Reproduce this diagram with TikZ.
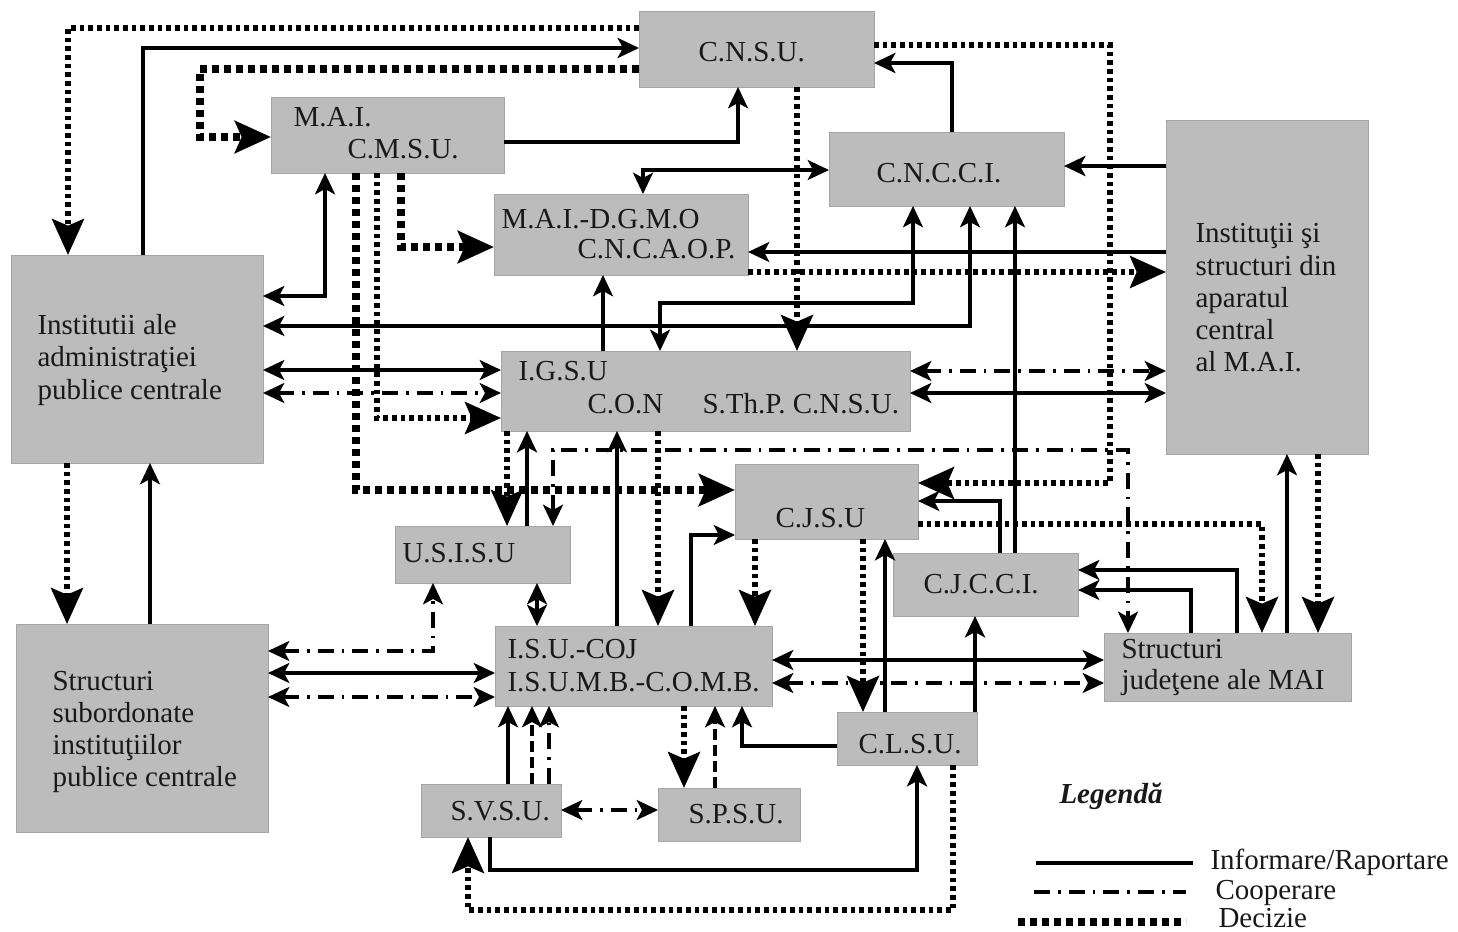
\documentclass[tikz,border=0pt]{standalone}
\usepackage{fontspec}
\setmainfont{Liberation Serif}
\usetikzlibrary{arrows.meta,fit}

\tikzset{every picture/.style={line width=0.75pt}}
\tikzset{
  box/.style={draw={rgb,255:red,165;green,165;blue,165}, fill={rgb,255:red,188;green,188;blue,188}, line width=0.75pt, inner sep=0pt, outer sep=0pt},
  lbl/.style={anchor=base west, inner sep=0pt, text={rgb,255:red,25;green,25;blue,25}, font=\fontsize{21.75}{24}\selectfont},
  info/.style={line width=2.4pt},
  infothick/.style={line width=3pt},
  coop/.style={line width=2.4pt, dash pattern=on 12pt off 6pt on 2pt off 6pt},
  coopdash/.style={line width=2.4pt, dash pattern=on 8pt off 4pt},
  deciz/.style={line width=4pt, dash pattern=on 3.5pt off 3pt},
  decizthick/.style={line width=5.5pt, dash pattern=on 5pt off 4pt},
  smtip/.tip={Stealth[length=16pt,width=15pt,inset=4pt]},
  bgtip/.tip={Stealth[length=27pt,width=24pt,inset=5pt]},
}

\begin{document}
\begin{tikzpicture}[x=0.75pt,y=0.75pt,yscale=-1,xscale=1]
\useasboundingbox (0,0) rectangle (1458,931);

%Shape: Rectangles
\node[box, fit={(639,12) (874,87)}] (cnsu) {};
\node[box, fit={(271,97) (504,173)}] (cmsu) {};
\node[box, fit={(829,132) (1064,206)}] (cncci) {};
\node[box, fit={(494,194) (748,275)}] (dgmo) {};
\node[box, fit={(1166,120) (1368,454)}] (instmai) {};
\node[box, fit={(11,255) (263,463)}] (inst) {};
\node[box, fit={(501,351) (910,431)}] (igsu) {};
\node[box, fit={(735,464) (918,539)}] (cjsu) {};
\node[box, fit={(395,526) (570,583)}] (usisu) {};
\node[box, fit={(893,553) (1078,616)}] (cjcci) {};
\node[box, fit={(495,626) (772,706)}] (isu) {};
\node[box, fit={(1104,633) (1351,701)}] (sj) {};
\node[box, fit={(16,624) (268,832)}] (ss) {};
\node[box, fit={(837,712) (977,765)}] (clsu) {};
\node[box, fit={(421,784) (561,837)}] (svsu) {};
\node[box, fit={(658,788) (800,841)}] (spsu) {};

%Lines: top
\draw[deciz, -bgtip] (cnsu.west |- 0,28) -| (inst.north -| 68,0);
\draw[infothick, -smtip] (inst.north -| 143,0) |- (cnsu.west |- 0,48);
\draw[decizthick, -bgtip] (cnsu.west |- 0,69) -| (200,137) -- (cmsu.west |- 0,137);
\draw[info, -smtip] (cmsu.east |- 0,142) -| (cnsu.south -| 738,0);
\draw[deciz, -bgtip] (cnsu.east |- 0,45) -| (1110,483) -- (cjsu.east |- 0,483);
\draw[infothick, -smtip] (cncci.north -| 952,0) |- (cnsu.east |- 0,63);
\draw[infothick, -smtip] (instmai.west |- 0,166) -- (cncci.east |- 0,166);
\draw[info, smtip-smtip] (dgmo.north -| 643,0) |- (cncci.west |- 0,170);
\draw[deciz, -bgtip] (cnsu.south -| 797,0) -- (igsu.north -| 797,0);

%Lines: from M.A.I. C.M.S.U.
\draw[decizthick, -bgtip] (cmsu.south -| 401,0) |- (dgmo.west |- 0,247);
\draw[decizthick, -bgtip] (cmsu.south -| 356,0) |- (cjsu.west |- 0,490);
\draw[deciz, -bgtip] (cmsu.south -| 377,0) |- (igsu.west |- 0,418);
\draw[info, smtip-smtip] (cmsu.south -| 325,0) |- (inst.east |- 0,296);

%Lines: around I.G.S.U
\draw[info, smtip-smtip] (cncci.south -| 913,0) |- (660,303) -- (igsu.north -| 660,0);
\draw[info, smtip-smtip] (inst.east |- 0,326) -| (cncci.south -| 970,0);
\draw[info, -smtip] (igsu.north -| 603,0) -- (dgmo.south -| 603,0);
\draw[info, -smtip] (instmai.west |- 0,252) -- (dgmo.east |- 0,252);
\draw[deciz, -bgtip] (dgmo.east |- 0,272) -- (instmai.west |- 0,272);
\draw[info, -smtip] (cjcci.north -| 1015,0) -- (cncci.south -| 1015,0);
\draw[info, smtip-smtip] (inst.east |- 0,370) -- (igsu.west |- 0,370);
\draw[coop, smtip-smtip] (inst.east |- 0,393) -- (igsu.west |- 0,393);
\draw[coop, smtip-smtip] (igsu.east |- 0,371) -- (instmai.west |- 0,371);
\draw[info, smtip-smtip] (igsu.east |- 0,393) -- (instmai.west |- 0,393);
\draw[coop, smtip-smtip] (usisu.north -| 553,0) |- (1128,450) -- (sj.north -| 1128,0);

%Lines: middle
\draw[deciz, -bgtip] (igsu.south -| 507,0) -- (usisu.north -| 507,0);
\draw[infothick, -smtip] (usisu.north -| 527,0) -- (igsu.south -| 527,0);
\draw[info, -smtip] (isu.north -| 617,0) -- (igsu.south -| 617,0);
\draw[deciz, -bgtip] (igsu.south -| 658,0) -- (isu.north -| 658,0);
\draw[info, -smtip] (isu.north -| 691,0) |- (cjsu.west |- 0,535);
\draw[deciz, -bgtip] (cjsu.south -| 755,0) -- (isu.north -| 755,0);
\draw[info, smtip-smtip] (usisu.south -| 537,0) -- (isu.north -| 537,0);
\draw[coop, smtip-smtip] (ss.east |- 0,651) -| (usisu.south -| 433,0);
\draw[info, smtip-smtip] (ss.east |- 0,673) -- (isu.west |- 0,673);
\draw[coop, smtip-smtip] (ss.east |- 0,697) -- (isu.west |- 0,697);
\draw[deciz, -bgtip] (inst.south -| 67,0) -- (ss.north -| 67,0);
\draw[info, -smtip] (ss.north -| 150,0) -- (inst.south -| 150,0);

%Lines: right side
\draw[info, -smtip] (cjcci.north -| 1000,0) |- (cjsu.east |- 0,501);
\draw[deciz, -bgtip] (cjsu.east |- 0,524) -| (sj.north -| 1262,0);
\draw[deciz, -bgtip] (instmai.south -| 1318,0) -- (sj.north -| 1318,0);
\draw[info, -smtip] (sj.north -| 1287,0) -- (instmai.south -| 1287,0);
\draw[info, -smtip] (sj.north -| 1237,0) |- (cjcci.east |- 0,570);
\draw[info, -smtip] (sj.north -| 1191,0) |- (cjcci.east |- 0,590);
\draw[infothick, -smtip] (clsu.north -| 885,0) -- (cjsu.south -| 885,0);
\draw[deciz, -bgtip] (cjsu.south -| 863,0) -- (clsu.north -| 863,0);
\draw[infothick, -smtip] (clsu.north -| 975,0) -- (cjcci.south -| 975,0);
\draw[info, smtip-smtip] (isu.east |- 0,660) -- (sj.west |- 0,660);
\draw[coop, smtip-smtip] (isu.east |- 0,683) -- (sj.west |- 0,683);

%Lines: bottom
\draw[info, -smtip] (svsu.north -| 508,0) -- (isu.south -| 508,0);
\draw[coopdash, -smtip] (svsu.north -| 532,0) -- (isu.south -| 532,0);
\draw[coop, -smtip] (svsu.north -| 549,0) -- (isu.south -| 549,0);
\draw[deciz, -bgtip] (isu.south -| 684,0) -- (spsu.north -| 684,0);
\draw[coopdash, -smtip] (spsu.north -| 715,0) -- (isu.south -| 715,0);
\draw[info, -smtip] (clsu.west |- 0,746) -| (isu.south -| 742,0);
\draw[coop, smtip-smtip] (svsu.east |- 0,810) -- (spsu.west |- 0,810);
\draw[infothick, -smtip] (svsu.south -| 490,0) |- (917,870) -- (clsu.south -| 917,0);
\draw[deciz, -bgtip] (clsu.south -| 953,0) |- (468,910) -- (svsu.south -| 468,0);

%Legend lines
\draw[line width=3.5pt] (1036,863) -- (1193,863);
\draw[coop] (1034,892) -- (1186,892);
\draw[decizthick] (1018,922) -- (1186,922);

% Text Node
\node[lbl] (tcnsu) at (698,62) {C.N.S.U.};
\node[lbl] (tmai) at (293,126) {M.A.I.};
\node[lbl] (tcmsu) at (347,158) {C.M.S.U.};
\node[lbl] (tcncci) at (876,182) {C.N.C.C.I.};
\node[lbl] (tdgmo) at (501,228) {M.A.I.-D.G.M.O};
\node[lbl] (tcncaop) at (577,258) {C.N.C.A.O.P.};
\node[lbl] (tim1) at (1195,242) {Instituţii şi};
\node[lbl] (tim2) at (1195,275) {structuri din};
\node[lbl] (tim3) at (1195,307) {aparatul};
\node[lbl] (tim4) at (1195,339) {central};
\node[lbl] (tim5) at (1195,371) {al M.A.I.};
\node[lbl] (tin1) at (37,334) {Institutii ale};
\node[lbl] (tin2) at (37,366) {administraţiei};
\node[lbl] (tin3) at (37,399) {publice centrale};
\node[lbl] (tigsu) at (518,380) {I.G.S.U};
\node[lbl] (tcon) at (587,413) {C.O.N};
\node[lbl] (tsthp) at (702,413) {S.Th.P. C.N.S.U.};
\node[lbl] (tcjsu) at (775,527) {C.J.S.U};
\node[lbl] (tusisu) at (402,562) {U.S.I.S.U};
\node[lbl] (tcjcci) at (923,593) {C.J.C.C.I.};
\node[lbl] (tisu1) at (507,658) {I.S.U.-COJ};
\node[lbl] (tisu2) at (507,691) {I.S.U.M.B.-C.O.M.B.};
\node[lbl] (tsj1) at (1121,658) {Structuri};
\node[lbl] (tsj2) at (1121,689) {judeţene ale MAI};
\node[lbl] (tss1) at (52,690) {Structuri};
\node[lbl] (tss2) at (52,722) {subordonate};
\node[lbl] (tss3) at (52,754) {instituţiilor};
\node[lbl] (tss4) at (52,786) {publice centrale};
\node[lbl] (tclsu) at (858,753) {C.L.S.U.};
\node[lbl] (tsvsu) at (450,820) {S.V.S.U.};
\node[lbl] (tspsu) at (688,823) {S.P.S.U.};
\node[lbl, font=\fontsize{21.75}{24}\selectfont\bfseries\itshape] (tleg) at (1059,803) {Legendă};
\node[lbl] (tinf) at (1210,869) {Informare/Raportare};
\node[lbl] (tcoop) at (1215,899) {Cooperare};
\node[lbl] (tdec) at (1218,927) {Decizie};

\end{tikzpicture}
\end{document}
